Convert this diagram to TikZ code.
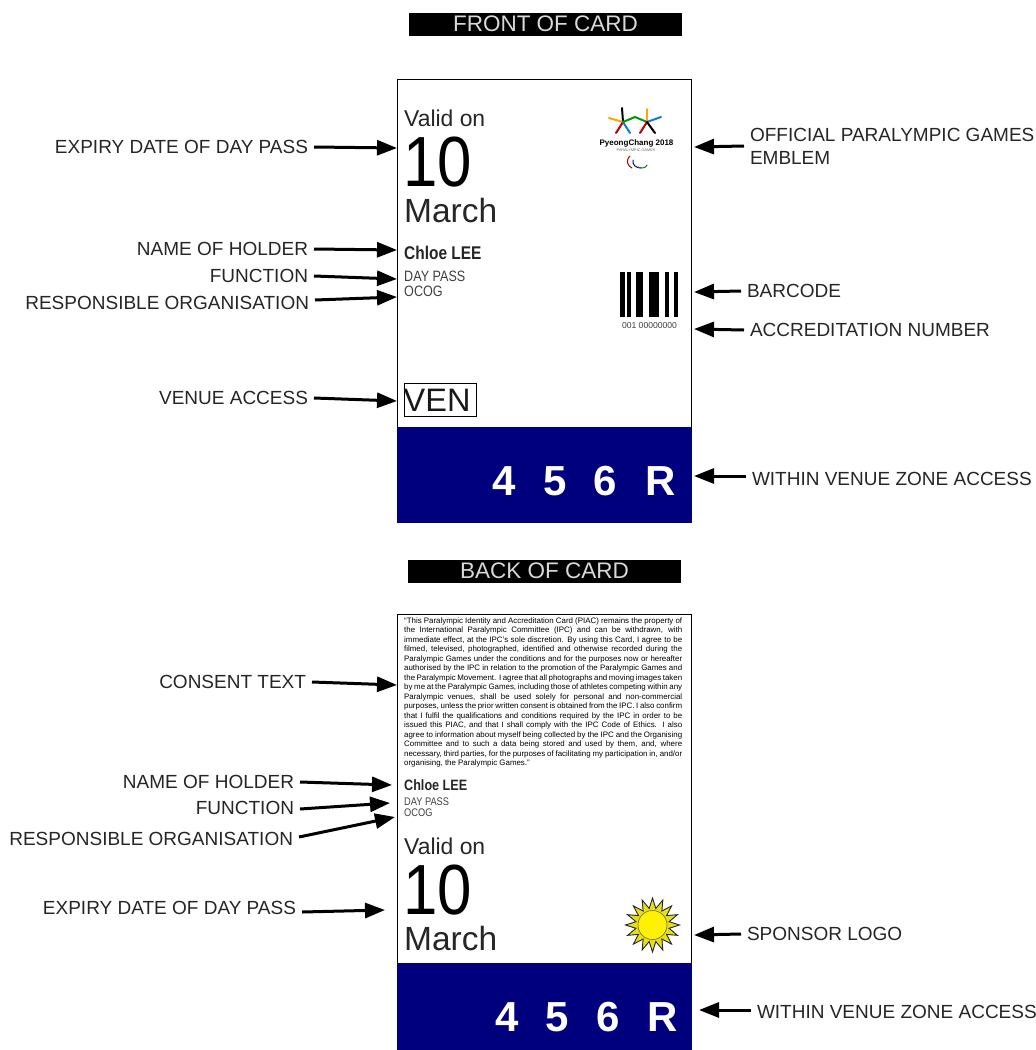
\documentclass[tikz,border=0pt]{standalone}
\usepackage{fontspec}
\setmainfont{Liberation Sans}
\newfontfamily\narrowf[FakeStretch=0.84]{Liberation Sans}
\newfontfamily\numf[FakeStretch=0.87]{Liberation Sans}
\usetikzlibrary{arrows.meta,shapes.geometric,shapes.misc,calc}
\definecolor{navyband}{HTML}{00007F}
\definecolor{labelgray}{HTML}{262626}
\tikzset{
  x=1pt,y=-1pt,
  lab/.style={inner sep=0pt,outer xsep=6pt,text=labelgray,font=\fontsize{19}{21}\selectfont,anchor=east},
  labr/.style={lab,anchor=west,align=left},
  arr/.style={line width=3pt,-{Triangle[length=20pt,width=15pt]},black},
  bartitle/.style={fill=black,text=white!85!black,minimum width=273pt,minimum height=23pt,inner sep=0pt,font=\fontsize{22.5}{24}\selectfont},
  cardbox/.style={draw=black,line width=1pt,fill=white},
  band/.style={fill=navyband},
  valid/.style={inner sep=0pt,anchor=base west,text=black!85,font=\fontsize{22.9}{25}\selectfont},
  bignum/.style={inner sep=0pt,anchor=base west,font=\numf\fontsize{71}{71}\selectfont},
  month/.style={inner sep=0pt,anchor=base west,text=black!85,font=\fontsize{33.5}{36}\selectfont},
  holder/.style={inner sep=0pt,anchor=base west,text=black!85,font=\narrowf\bfseries\fontsize{18.4}{20}\selectfont},
  small/.style={inner sep=0pt,anchor=base west,text=black!75,font=\narrowf\fontsize{15}{16}\selectfont},
  smallb/.style={small,font=\narrowf\fontsize{11}{12}\selectfont},
  zone/.style={inner sep=0pt,anchor=base,text=white,font=\bfseries\fontsize{42}{44}\selectfont},
  ring/.style={line width=1pt,line cap=round},
  stroke/.style={line width=2pt,line cap=round},
}
\newcommand{\cl}[1]{\hbox to 278pt{#1}}
\begin{document}
\begin{tikzpicture}
\useasboundingbox (0,0) rectangle (1036,1050);
\fill[white] (0,0) rectangle (1036,1050);
% titles
\node[bartitle] (t1) at (545.5,24.5) {\raisebox{1pt}{FRONT OF CARD}};
\node[bartitle] (t2) at (544.5,571.5) {\raisebox{1pt}{BACK OF CARD}};
% front card
\node[cardbox,anchor=north west,minimum width=294pt,minimum height=443pt,inner sep=0pt] (front) at (397,79) {};
\fill[band] (397,427) rectangle (691.5,522.5);
\node[valid] (fv) at (404,126) {Valid on};
\node[bignum] (fn) at (403,186) {10};
\node[month] (fm) at (404,222) {March};
\node[holder] (fh) at (404,259) {Chloe LEE};
\node[small] (fd) at (404,281) {DAY PASS};
\node[small] (fo) at (404,296) {OCOG};
\node[draw=black,line width=1pt,minimum width=72pt,minimum height=33pt,inner sep=0pt,anchor=north west] (fven) at (404,383) {};
\node[inner sep=0pt,anchor=base west,font=\fontsize{32.5}{36}\selectfont,text=black!90] (fvt) at (403.5,411) {VEN};
\node[zone] (z1) at (504,495) {4};
\node[zone] (z2) at (555,495) {5};
\node[zone] (z3) at (605.5,495) {6};
\node[zone] (z4) at (660.5,495) {R};
% emblem
\draw[stroke,black] (622,108) -- (623,122);
\draw[stroke,orange!70!yellow] (609,118) -- (623,122);
\draw[stroke,red!75!black] (623,122) -- (616,133);
\draw[stroke,cyan!60!blue] (623,122) -- (630,133);
\draw[stroke,green!60!black] (623,122) -- (635,117) -- (647,122);
\draw[stroke,orange!70!yellow] (647,109) -- (647,122);
\draw[stroke,cyan!60!blue] (647,122) -- (661,117);
\draw[stroke,red!75!black] (647,122) -- (640,133);
\draw[stroke,black] (647,122) -- (655,133);
\node[inner sep=0pt,font=\bfseries\fontsize{8}{9}\selectfont] (fe) at (636.5,143) {PyeongChang 2018};
\node[inner sep=0pt,text=black!60,font=\fontsize{3.8}{4}\selectfont] (fp) at (636,150.5) {PARALYMPIC GAMES};
\draw[ring,red!70!black] (630,156) .. controls (625,161) and (628,166) .. (632,168);
\draw[ring,blue!60!black] (633,160) .. controls (632,165) and (636,168) .. (641,168);
\draw[ring,green!50!black] (638,167) .. controls (641,169) and (646,168) .. (647,165);
% barcode
\fill[black] (620,272) rectangle (624.7,317);
\fill[black] (627.3,272) rectangle (631.3,317);
\fill[black] (635.7,272) rectangle (643.3,317);
\fill[black] (648.7,272) rectangle (659.3,317);
\fill[black] (664.7,272) rectangle (668.7,317);
\fill[black] (674,272) rectangle (678.3,317);
\node[inner sep=0pt,text=black!75,font=\fontsize{8.6}{9}\selectfont] (fnum) at (649.5,326) {001 00000000};
% back card
\draw[cardbox] (397,1051) -- (397,614) -- (691,614) -- (691,1051);
\fill[band] (397,963) rectangle (691.5,1050);
\node[inner sep=0pt,anchor=north west,text=black,font=\fontsize{7.9}{9.5}\selectfont] (consent) at (404,617.5) {\vbox{\baselineskip=9.5pt
\cl{“This Paralympic Identity and Accreditation Card (PIAC) remains the property of}
\cl{the International Paralympic Committee (IPC) and can be withdrawn, with}
\cl{immediate effect, at the IPC’s sole discretion. By using this Card, I agree to be}
\cl{filmed, televised, photographed, identified and otherwise recorded during the}
\cl{Paralympic Games under the conditions and for the purposes now or hereafter}
\cl{authorised by the IPC in relation to the promotion of the Paralympic Games and}
\cl{the Paralympic Movement. I agree that all photographs and moving images taken}
\cl{by me at the Paralympic Games, including those of athletes competing within any}
\cl{Paralympic venues, shall be used solely for personal and non-commercial}
\cl{purposes, unless the prior written consent is obtained from the IPC. I also confirm}
\cl{that I fulfil the qualifications and conditions required by the IPC in order to be}
\cl{issued this PIAC, and that I shall comply with the IPC Code of Ethics. I also}
\cl{agree to information about myself being collected by the IPC and the Organising}
\cl{Committee and to such a data being stored and used by them, and, where}
\cl{necessary, third parties, for the purposes of facilitating my participation in, and/or}
\hbox{organising, the Paralympic Games.”}}};
\node[holder,font=\narrowf\bfseries\fontsize{15}{17}\selectfont] (bh) at (404,790) {Chloe LEE};
\node[smallb] (bd) at (404,805) {DAY PASS};
\node[smallb] (bo) at (404,816) {OCOG};
\node[valid] (bv) at (404,854) {Valid on};
\node[bignum] (bn) at (403,914) {10};
\node[month] (bm) at (404,950) {March};
\node[zone] (bz1) at (507,1031) {4};
\node[zone] (bz2) at (557,1031) {5};
\node[zone] (bz3) at (608,1031) {6};
\node[zone] (bz4) at (662.5,1031) {R};
% sun
\node[star,star points=16,star point ratio=1.6,draw=black!85,fill=yellow!90!black,minimum size=54pt,inner sep=0pt,line width=.9pt] (sunr) at (652.5,925) {};
\node[circle,draw=black!60,fill=yellow,minimum size=29pt,inner sep=0pt,line width=.6pt] (sunc) at (652.5,925) {};
% free ends
\coordinate (fa1) at (397,148);
\coordinate (fa2) at (397,250);
\coordinate (fa3) at (397,279);
\coordinate (fa4) at (397,297);
\coordinate (fa5) at (397,401);
\coordinate (fb1) at (694,147);
\coordinate (fb2) at (694,292);
\coordinate (fb3) at (694,329);
\coordinate (fb4) at (694,476);
\coordinate (ba1) at (397,685);
\coordinate (ba2) at (392,785);
\coordinate (ba3) at (390,803);
\coordinate (ba4) at (395,817);
\coordinate (ba5) at (385,910);
\coordinate (bb1) at (694,935);
\coordinate (bb2) at (699,1010);
% labels, front
\node[lab] (l1) at (314,147) {EXPIRY DATE OF DAY PASS};
\node[lab] (l2) at (314,249) {NAME OF HOLDER};
\node[lab] (l3) at (314,276) {FUNCTION};
\node[lab] (l4) at (315,303) {RESPONSIBLE ORGANISATION};
\node[lab] (l5) at (314,398) {VENUE ACCESS};
\node[labr] (r1) at (744,146) {OFFICIAL PARALYMPIC GAMES\\[2pt]EMBLEM};
\node[labr] (r2) at (741,291) {BARCODE};
\node[labr] (r3) at (744,330) {ACCREDITATION NUMBER};
\node[labr] (r4) at (746,479) {WITHIN VENUE ZONE ACCESS};
% labels, back
\node[lab] (l6) at (312,682) {CONSENT TEXT};
\node[lab] (l7) at (300,782) {NAME OF HOLDER};
\node[lab] (l8) at (300,808) {FUNCTION};
\node[lab] (l9) at (299,839) {RESPONSIBLE ORGANISATION};
\node[lab] (l10) at (302,908) {EXPIRY DATE OF DAY PASS};
\node[labr] (r5) at (741,934) {SPONSOR LOGO};
\node[labr] (r6) at (751,1012) {WITHIN VENUE ZONE ACCESS};
% connectors
\draw[arr] (l1.east) -- (fa1);
\draw[arr] (l2.east) -- (fa2);
\draw[arr] (l3.east) -- (fa3);
\draw[arr] ([yshift=3]l4.east) -- (fa4);
\draw[arr] (l5.east) -- (fa5);
\draw[arr] (r1.west) -- (fb1);
\draw[arr] (r2.west) -- (fb2);
\draw[arr] (r3.west) -- (fb3);
\draw[arr] ([yshift=3]r4.west) -- (fb4);
\draw[arr] (l6.east) -- (ba1);
\draw[arr] (l7.east) -- (ba2);
\draw[arr] ([yshift=-1]l8.east) -- (ba3);
\draw[arr] ([yshift=2]l9.east) -- (ba4);
\draw[arr] ([yshift=-4]l10.east) -- (ba5);
\draw[arr] (r5.west) -- (bb1);
\draw[arr] ([yshift=2]r6.west) -- (bb2);
\end{tikzpicture}
\end{document}
